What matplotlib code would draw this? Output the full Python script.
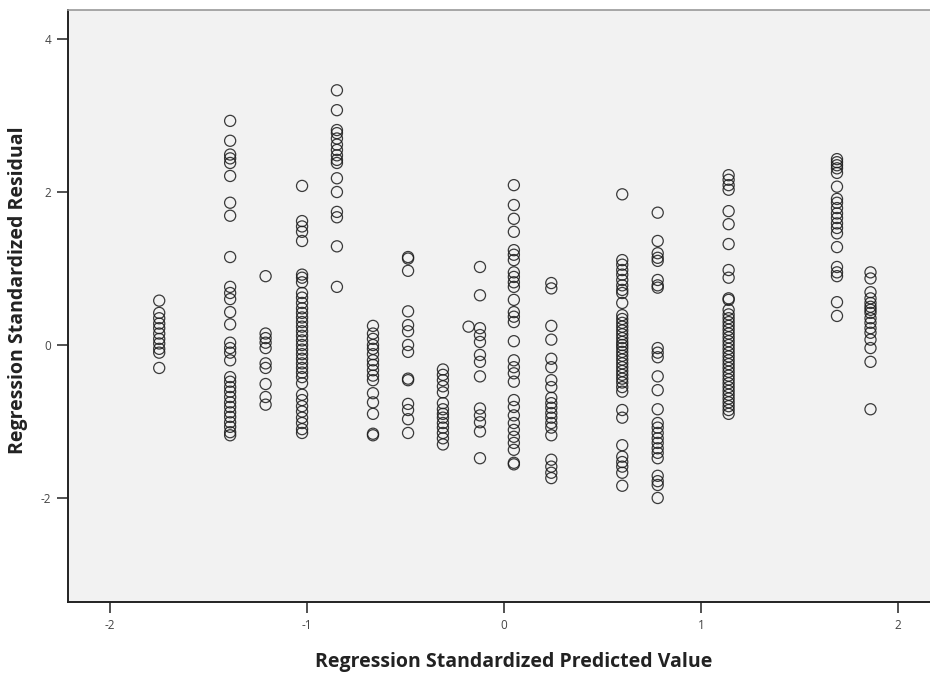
import numpy as np
import matplotlib.pyplot as plt

# predicted value of each column of cases, and the residuals found there
col_x = [-1.75, -1.39, -1.21, -1.025, -0.848, -0.665, -0.487, -0.31, -0.18, -0.122,
         0.05, 0.24, 0.60, 0.78, 1.14, 1.69, 1.86]

res_c1 = [0.58, 0.42, 0.35, 0.28, 0.22, 0.15, 0.08, 0.02, -0.05, -0.10, -0.30]
res_c2 = [2.93, 2.67, 2.49, 2.44, 2.38, 2.21, 1.86, 1.69, 1.15, 0.76, 0.68, 0.60,
          0.43, 0.27, 0.03, -0.04, -0.10, -0.20, -0.42, -0.48, -0.55, -0.61, -0.68,
          -0.75, -0.81, -0.88, -0.94, -1.01, -1.07, -1.14, -1.18]
res_c3 = [0.90, 0.15, 0.09, 0.03, -0.04, -0.24, -0.30, -0.51, -0.68, -0.78]
res_c4 = [2.08, 1.62, 1.55, 1.48, 1.36, 0.92, 0.88, 0.82, 0.68, 0.62, 0.55, 0.48,
          0.42, 0.36, 0.30, 0.24, 0.18, 0.12, 0.06, 0.0, -0.06, -0.12, -0.18, -0.24,
          -0.30, -0.36, -0.42, -0.50, -0.65, -0.72, -0.80, -0.87, -0.95, -1.02, -1.10,
          -1.15]
res_c5 = [3.33, 3.07, 2.81, 2.77, 2.70, 2.62, 2.55, 2.48, 2.42, 2.38, 2.18, 2.00,
          1.74, 1.67, 1.29, 0.76]
res_c6 = [0.25, 0.15, 0.08, 0.0, -0.05, -0.12, -0.20, -0.26, -0.33, -0.40, -0.46,
          -0.63, -0.75, -0.90, -1.16, -1.18]
res_c7 = [1.15, 1.13, 0.97, 0.44, 0.26, 0.18, 0.0, -0.09, -0.44, -0.46, -0.77,
          -0.85, -0.97, -1.15]
res_c8 = [-0.32, -0.39, -0.46, -0.54, -0.62, -0.76, -0.84, -0.90, -0.95, -1.02,
          -1.08, -1.15, -1.22, -1.30]
res_c8b = [0.24]
res_c9 = [1.02, 0.65, 0.22, 0.13, 0.04, -0.13, -0.22, -0.41, -0.83, -0.92, -1.01,
          -1.13, -1.48]
res_c10 = [2.09, 1.83, 1.65, 1.48, 1.24, 1.18, 1.11, 0.95, 0.89, 0.82, 0.76, 0.59,
           0.43, 0.37, 0.30, 0.05, -0.20, -0.29, -0.37, -0.48, -0.72, -0.81, -0.92,
           -1.02, -1.11, -1.20, -1.28, -1.37, -1.54, -1.56]
res_c11 = [0.81, 0.74, 0.25, 0.07, -0.18, -0.29, -0.46, -0.55, -0.69, -0.76, -0.82,
           -0.89, -0.95, -1.02, -1.08, -1.18, -1.50, -1.59, -1.67, -1.74]
res_c12 = [1.97, 1.11, 1.05, 0.98, 0.92, 0.85, 0.78, 0.72, 0.68, 0.55, 0.39, 0.34,
           0.29, 0.24, 0.19, 0.14, 0.09, 0.04, 0.0, -0.04, -0.09, -0.14, -0.19, -0.24,
           -0.29, -0.34, -0.39, -0.44, -0.49, -0.55, -0.61, -0.85, -0.95, -1.31,
           -1.46, -1.53, -1.59, -1.67, -1.84]
res_c13 = [1.73, 1.36, 1.20, 1.14, 1.10, 0.85, 0.78, 0.75, -0.04, -0.10, -0.16,
           -0.41, -0.59, -0.84, -1.02, -1.08, -1.15, -1.22, -1.28, -1.35, -1.41,
           -1.48, -1.71, -1.78, -1.83, -2.00]
res_c14 = [2.22, 2.16, 2.09, 2.03, 1.75, 1.58, 1.32, 0.98, 0.88, 0.61, 0.59, 0.46,
           0.40, 0.35, 0.30, 0.25, 0.20, 0.15, 0.10, 0.05, 0.0, -0.05, -0.10, -0.15,
           -0.20, -0.25, -0.30, -0.35, -0.40, -0.45, -0.50, -0.55, -0.60, -0.65,
           -0.70, -0.75, -0.80, -0.85, -0.90]
res_c15 = [2.43, 2.39, 2.35, 2.31, 2.25, 2.07, 1.91, 1.86, 1.79, 1.72, 1.66, 1.59,
           1.53, 1.46, 1.28, 1.02, 0.95, 0.90, 0.56, 0.38]
res_c16 = [0.95, 0.87, 0.69, 0.61, 0.55, 0.50, 0.46, 0.42, 0.35, 0.29, 0.22, 0.16,
           0.07, -0.04, -0.22, -0.84]

residuals = [res_c1, res_c2, res_c3, res_c4, res_c5, res_c6, res_c7, res_c8, res_c8b,
             res_c9, res_c10, res_c11, res_c12, res_c13, res_c14, res_c15, res_c16]

pred = np.concatenate([[x] * len(r) for x, r in zip(col_x, residuals)])
resid = np.concatenate(residuals)

plt.rcParams['font.family'] = ['Open Sans', 'DejaVu Sans']
plt.rcParams['axes.unicode_minus'] = False

fig = plt.figure(figsize=(9.3, 6.74), dpi=100)
ax = fig.add_axes([0.0731, 0.1068, 0.9269, 0.8784])
ax.set_facecolor('#f2f2f2')

ax.scatter(pred, resid, s=64, facecolors='none', edgecolors='#1a1a1a',
           linewidths=0.9, alpha=0.85, zorder=3)

ax.set_xlim(-2.213, 2.162)
ax.set_ylim(-3.36, 4.38)
ax.set_xticks([-2, -1, 0, 1, 2])
ax.set_yticks([-2, 0, 2, 4])
ax.tick_params(direction='out', length=8, width=1.2, color='#333333',
               labelsize=8.5, labelcolor='#444444', pad=4)

for side in ['left', 'bottom']:
    ax.spines[side].set_color('#222222')
    ax.spines[side].set_linewidth(1.4)
ax.spines['top'].set_color('#999999')
ax.spines['top'].set_linewidth(1.2)
ax.spines['right'].set_visible(False)

ax.set_xlabel('Regression Standardized Predicted Value', fontsize=14,
              fontweight='bold', color='#222222', va='center')
ax.set_ylabel('Regression Standardized Residual', fontsize=14,
              fontweight='bold', color='#222222', va='center')
ax.xaxis.set_label_coords(0.517, -0.101)
ax.yaxis.set_label_coords(-0.058, 0.527)

fig.savefig('out.png', dpi=100)
